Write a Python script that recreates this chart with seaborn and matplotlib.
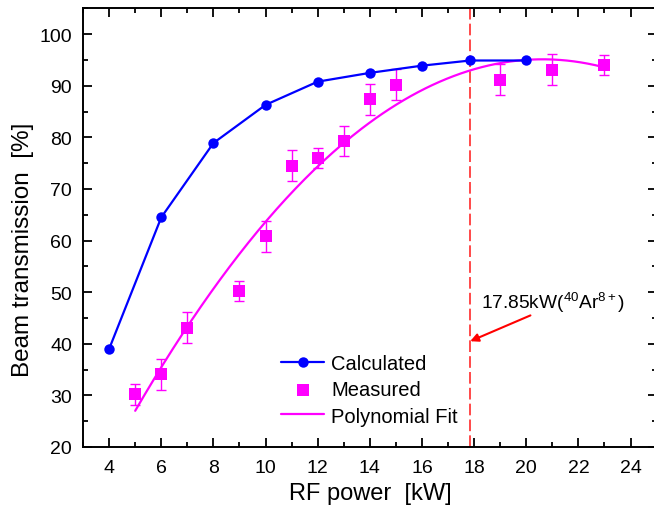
import numpy as np
import pandas as pd
import matplotlib
matplotlib.use("Agg")
import matplotlib.pyplot as plt
from matplotlib.ticker import MultipleLocator
import seaborn as sns

# Calculated transmission vs RF power
calc_power = [4, 6, 8, 10, 12, 14, 16, 17.85, 20]
calc_trans = [39.0, 64.5, 78.9, 86.3, 90.8, 92.5, 93.9, 94.9, 94.9]

# Measured transmission with uncertainties
meas_power = [5, 6, 7, 9, 10, 11, 12, 13, 14, 15, 19, 21, 23]
meas_trans = [30.2, 34.1, 43.1, 50.2, 60.8, 74.5, 76.0, 79.3, 87.4, 90.2, 91.2, 93.1, 94.0]
meas_err = [2.0, 3.0, 3.0, 2.0, 3.0, 3.0, 2.0, 3.0, 3.0, 3.0, 3.0, 3.0, 2.0]

# Operating point
op_power = 17.85
op_label = "17.85kW($^{40}$Ar$^{8+}$)"

sns.set_theme(style="ticks")
plt.rcParams["font.family"] = ["Liberation Sans", "DejaVu Sans"]
plt.rcParams["mathtext.fontset"] = "custom"
plt.rcParams["mathtext.rm"] = "Liberation Sans"
plt.rcParams["mathtext.it"] = "Liberation Sans"
plt.rcParams["mathtext.bf"] = "Liberation Sans:bold"
for key in ("text.color", "axes.labelcolor", "xtick.color", "ytick.color",
            "axes.edgecolor"):
    plt.rcParams[key] = "black"

calc_df = pd.DataFrame({"power": calc_power, "trans": calc_trans})
meas_df = pd.DataFrame({"power": meas_power, "trans": meas_trans, "err": meas_err})

# second-order polynomial fit of the measured points, weighted by their errors
coef = np.polyfit(meas_df["power"], meas_df["trans"], 2, w=1.0 / meas_df["err"])
fit_x = np.linspace(min(meas_power), max(meas_power), 200)
fit_df = pd.DataFrame({"power": fit_x, "trans": np.polyval(coef, fit_x)})

fig = plt.figure(figsize=(6.54, 5.10), dpi=100)
ax = fig.add_axes([0.127, 0.1216, 0.877, 0.860])

blue = "#0000ff"
magenta = "#ff00ff"

sns.lineplot(data=calc_df, x="power", y="trans", ax=ax, color=blue, lw=1.6,
             marker="o", markersize=7.5, markeredgewidth=0, label="Calculated",
             zorder=4)
ax.errorbar(meas_df["power"], meas_df["trans"], yerr=meas_df["err"], fmt="none",
            ecolor=magenta, elinewidth=1.0, capsize=3.5, capthick=1.0, zorder=3)
sns.scatterplot(data=meas_df, x="power", y="trans", ax=ax, color=magenta,
                marker="s", s=85, edgecolor=magenta, linewidth=0,
                label="Measured", zorder=5)
sns.lineplot(data=fit_df, x="power", y="trans", ax=ax, color=magenta, lw=1.6,
             label="Polynomial Fit", zorder=3)

ax.axvline(op_power, color="#ff2a2a", lw=1.2, linestyle=(0, (7, 2.5)), zorder=2)
ax.annotate("", xy=(op_power, 40.5), xytext=(20.16, 45.5),
            arrowprops=dict(arrowstyle="-|>", color="#ff0000", lw=1.5,
                            mutation_scale=12, shrinkA=0, shrinkB=0))
ax.text(18.28, 48.2, op_label, fontsize=13.8, ha="left", va="center")

ax.set_xlim(3, 25)
ax.set_ylim(20, 105)
ax.set_xticks(np.arange(4, 25, 2))
ax.set_yticks(np.arange(20, 101, 10))
ax.xaxis.set_minor_locator(MultipleLocator(1))
ax.yaxis.set_minor_locator(MultipleLocator(5))
ax.tick_params(which="both", direction="in", top=True, right=True,
               width=1.3, labelsize=14)
ax.tick_params(which="major", length=6.5, pad=8)
ax.tick_params(axis="x", which="major", pad=9)
ax.tick_params(which="minor", length=3.5)
for sp in ax.spines.values():
    sp.set_linewidth(1.4)

ax.set_xlabel("RF power  [kW]", fontsize=17, labelpad=4)
ax.set_ylabel("Beam transmission  [%]", fontsize=17.5)
ax.yaxis.set_label_coords(-0.086, 0.452)

leg = ax.legend(loc="upper left", bbox_to_anchor=(0.345, 0.211), frameon=False,
                fontsize=14.5, handlelength=2.15, handletextpad=0.35,
                labelspacing=0.35, borderaxespad=0, borderpad=0)

fig.savefig("out.png", dpi=100)
